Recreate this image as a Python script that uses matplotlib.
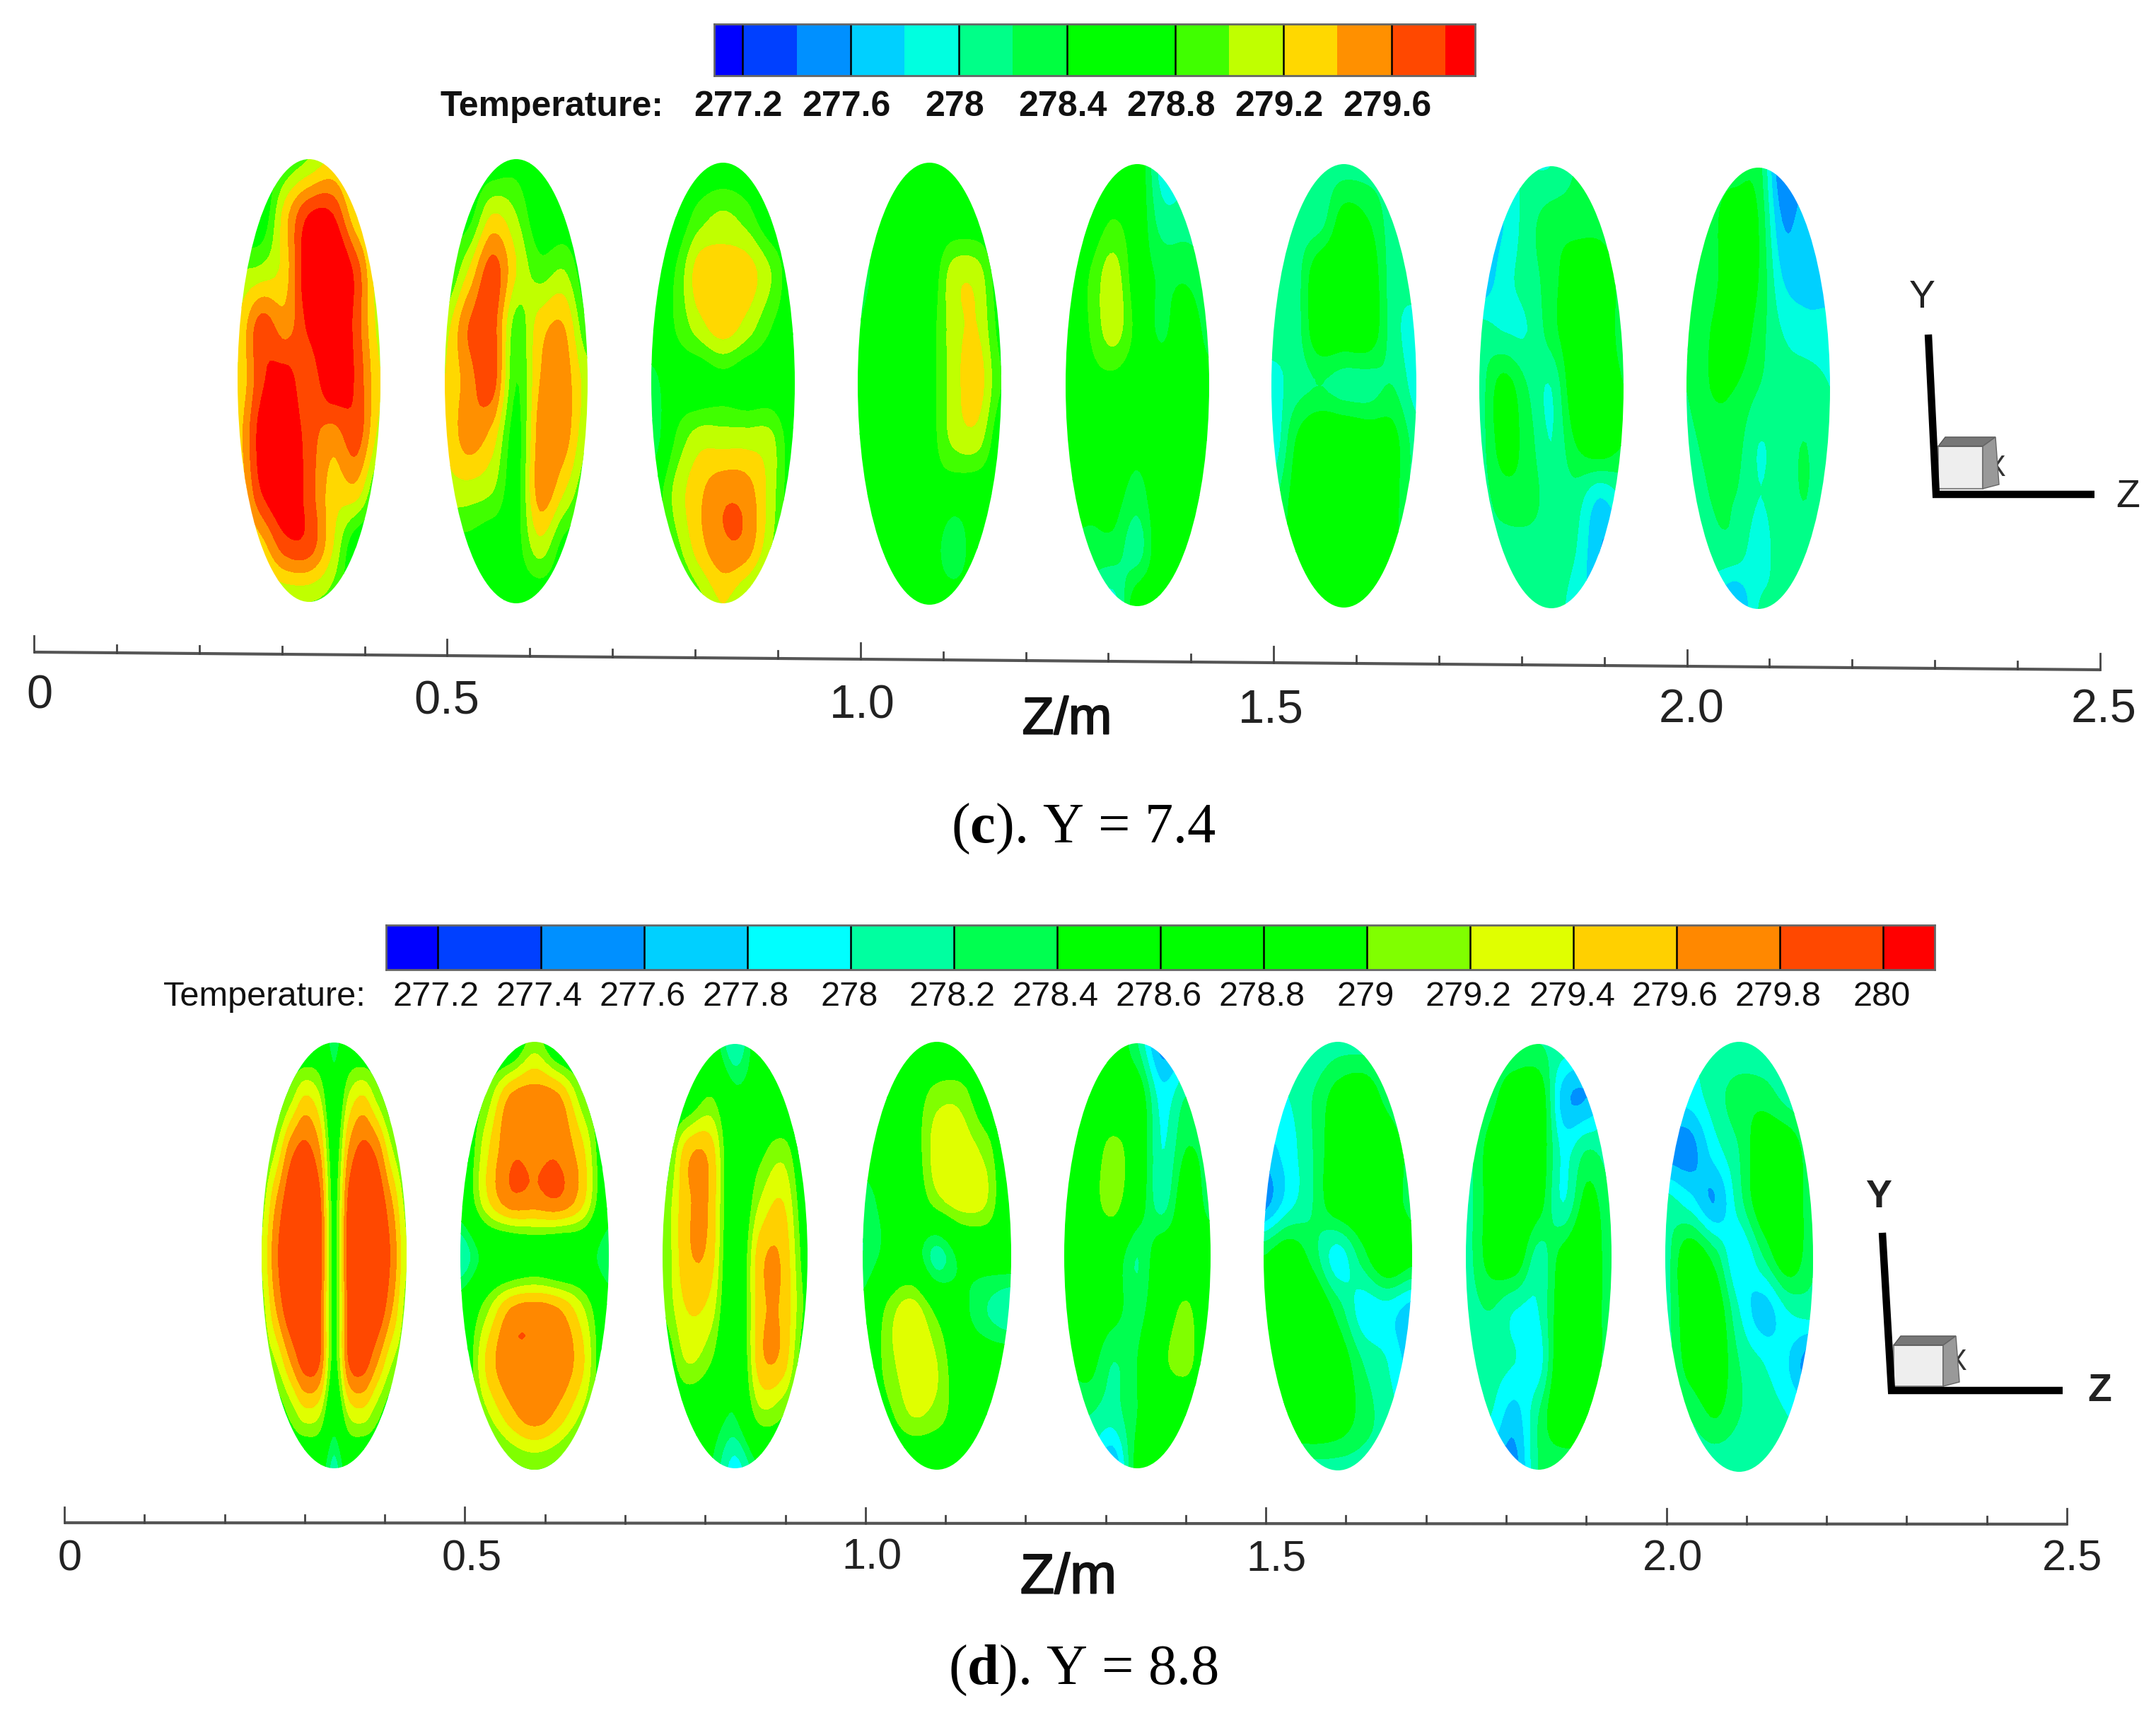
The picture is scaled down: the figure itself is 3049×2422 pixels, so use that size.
import numpy as np
import matplotlib
matplotlib.use("Agg")
import matplotlib.pyplot as plt
from matplotlib.patches import Ellipse, Polygon, Rectangle
import matplotlib.patheffects as pe

# ---------- data: temperature read at 9 heights (rows) x N widths (columns) ----------
c1 = [[278.6,278.6,278.8,279.0,279.2,278.9,278.6],[278.6,278.6,279.3,279.8,279.8,279.2,278.9],[279.0,279.05,279.3,280.0,280.1,279.7,279.0],[279.2,279.7,279.5,279.85,280.1,279.7,279.1],[279.2,279.75,279.9,279.65,280.0,279.75,279.2],[279.3,279.9,280.0,279.7,279.5,279.7,279.1],[279.2,279.8,280.0,279.7,279.3,279.3,278.7],[279.1,279.3,279.7,279.7,279.2,278.6,278.6],[279.0,279.0,279.0,279.0,278.9,278.6,278.6]]
c2 = [[278.6,278.6,278.6,278.7,278.5,278.5,278.5],[278.7,278.7,279.2,279.0,278.6,278.6,278.6],[278.7,279.2,279.7,279.2,278.9,279.0,278.6],[279.1,279.6,279.7,278.9,279.3,279.4,278.8],[279.2,279.5,279.7,278.8,279.4,279.5,279.1],[279.2,279.5,279.3,278.7,279.5,279.5,279.0],[279.1,279.1,279.0,278.7,279.5,279.2,278.8],[278.7,278.7,278.6,278.7,279.1,278.7,278.6],[278.6,278.6,278.6,278.6,278.6,278.6,278.6]]
c3 = [[278.6,278.6,278.6,278.6,278.6,278.6,278.6],[278.6,278.6,278.9,279.05,278.9,278.6,278.6],[278.6,278.8,279.3,279.3,279.3,279.0,278.6],[278.6,278.8,279.1,279.3,279.1,278.8,278.6],[278.3,278.6,278.6,278.7,278.6,278.6,278.5],[278.2,278.8,279.1,279.1,279.1,279.05,278.6],[278.6,279.05,279.35,279.55,279.5,279.1,278.6],[278.6,278.9,279.3,279.55,279.5,279.0,278.6],[278.6,278.6,278.9,279.2,278.9,278.6,278.6]]
c4 = [[278.6,278.6,278.6,278.6,278.6,278.6,278.6],[278.3,278.6,278.6,278.6,278.6,278.6,278.6],[278.3,278.5,278.6,278.6,279.1,279.1,278.6],[278.4,278.6,278.7,278.7,279.1,279.2,278.7],[278.5,278.7,278.7,278.7,279.1,279.3,278.8],[278.6,278.7,278.7,278.7,279.05,279.1,278.6],[278.6,278.6,278.6,278.7,278.6,278.6,278.6],[278.6,278.6,278.6,278.6,278.2,278.6,278.6],[278.6,278.6,278.6,278.6,278.6,278.6,278.6]]
c5 = [[278.6,278.6,278.6,278.6,277.9,277.9,277.9],[278.6,278.6,278.8,278.6,278.1,278.1,278.1],[278.6,278.8,279.1,278.6,278.35,278.35,278.2],[278.6,278.8,279.1,278.7,278.35,278.6,278.3],[278.6,278.7,278.7,278.6,278.6,278.6,278.5],[278.6,278.6,278.6,278.5,278.6,278.6,278.6],[278.6,278.5,278.5,278.3,278.6,278.6,278.6],[278.3,278.3,278.3,278.1,278.6,278.6,278.6],[278.1,278.1,277.9,278.6,278.6,278.6,278.6]]
c6 = [[278.1,278.1,278.1,278.1,278.1,278.1,278.1],[278.1,278.1,278.1,278.5,278.4,278.1,278.1],[278.1,278.1,278.6,278.6,278.6,278.1,278.1],[278.1,278.1,278.6,278.6,278.6,278.1,277.9],[277.9,278.1,278.2,278.1,278.1,278.2,277.9],[277.8,278.4,278.7,278.7,278.6,278.5,278.1],[278.1,278.5,278.7,278.7,278.6,278.5,278.1],[278.1,278.6,278.7,278.7,278.6,278.5,278.1],[278.6,278.6,278.6,278.6,278.6,278.6,278.6]]
c7 = [[278.0,278.0,278.0,278.0,278.2,278.2,278.2],[277.8,277.8,278.1,278.3,278.3,278.3,278.2],[277.6,277.9,278.1,278.3,278.6,278.6,278.3],[278.1,278.0,278.0,278.3,278.6,278.6,278.3],[278.1,278.5,278.2,278.0,278.6,278.6,278.4],[278.1,278.5,278.3,278.0,278.4,278.6,278.4],[278.1,278.3,278.3,278.1,278.1,277.8,278.0],[278.1,278.1,278.1,278.1,278.0,277.6,277.6],[278.1,278.1,278.1,278.1,277.9,277.7,277.7]]
c8 = [[278.3,278.3,278.3,278.3,277.4,277.6,277.6],[278.3,278.3,278.6,278.4,277.6,277.7,277.7],[278.3,278.3,278.6,278.4,277.8,277.7,277.7],[278.2,278.4,278.6,278.3,278.0,277.9,277.9],[278.2,278.4,278.4,278.2,278.1,278.1,278.0],[278.1,278.3,278.3,278.0,278.1,278.2,278.0],[277.9,278.2,278.2,278.0,278.1,278.2,278.0],[277.9,278.1,278.1,277.9,278.1,278.1,278.0],[277.7,277.8,277.5,278.0,278.0,278.0,278.0]]

d1 = [[278.7,278.7,278.7,278.7,278.7,278.3,278.7,278.7,278.7,278.7,278.7],
      [278.7,278.8,279.1,279.4,279.2,278.6,279.2,279.4,279.1,278.8,278.7],
      [278.9,279.2,279.7,279.85,279.6,278.8,279.6,279.85,279.7,279.2,278.9],
      [279.1,279.6,279.95,279.95,279.85,278.9,279.85,279.95,279.95,279.6,279.1],
      [279.2,279.75,279.95,279.95,279.9,278.9,279.9,279.95,279.95,279.75,279.2],
      [279.1,279.6,279.95,279.95,279.85,278.9,279.85,279.95,279.95,279.6,279.1],
      [279.0,279.2,279.6,279.9,279.8,278.9,279.8,279.9,279.6,279.2,279.0],
      [278.8,278.8,279.05,279.3,279.2,278.6,279.2,279.3,279.05,278.8,278.8],
      [278.7,278.7,278.7,278.6,278.6,278.1,278.6,278.6,278.7,278.7,278.7]]
d2 = [[278.6,278.6,278.6,279.1,278.6,278.6,278.6],[278.6,279.0,279.6,279.7,279.6,279.0,278.6],[278.6,279.3,279.75,279.75,279.75,279.4,278.6],[278.6,279.3,279.7,279.7,279.75,279.4,278.6],[278.0,278.5,278.6,278.7,278.6,278.6,278.2],[278.6,279.1,279.6,279.7,279.6,279.2,278.6],[278.6,279.4,279.75,279.75,279.75,279.4,278.6],[278.6,279.1,279.5,279.7,279.5,279.1,278.6],[278.6,278.6,278.9,279.0,278.9,278.6,278.6]]
d3 = [[278.6,278.6,278.6,278.0,278.6,278.6,278.6],[278.6,278.7,279.0,278.5,278.6,278.6,278.6],[278.7,279.5,279.5,278.6,278.9,279.1,278.6],[279.0,279.55,279.55,278.6,279.2,279.4,278.7],[279.0,279.55,279.5,278.6,279.5,279.55,278.8],[279.0,279.4,279.3,278.6,279.5,279.55,278.9],[278.7,279.2,279.0,278.5,279.5,279.5,278.7],[278.6,278.7,278.6,278.4,279.1,279.0,278.6],[278.6,278.6,278.4,277.9,278.4,278.6,278.6]]
d4 = [[278.6,278.6,278.6,278.6,278.6,278.6,278.6],[278.6,278.6,278.8,279.1,279.1,278.7,278.6],[278.5,278.6,278.8,279.3,279.3,279.1,278.6],[278.3,278.5,278.7,279.1,279.3,279.2,278.6],[278.2,278.5,278.6,278.1,278.5,278.6,278.6],[278.5,279.05,279.3,278.9,278.5,278.2,278.0],[278.6,279.1,279.3,279.2,278.7,278.6,278.6],[278.6,278.9,279.2,279.1,278.8,278.6,278.6],[278.6,278.6,278.6,278.6,278.6,278.6,278.6]]
d5 = [[278.6,278.6,278.6,278.2,277.5,277.8,278.3],[278.6,278.6,278.6,278.6,277.9,278.2,278.2],[278.6,278.7,279.1,278.7,278.0,278.4,278.3],[278.6,278.8,279.1,278.6,278.1,278.6,278.3],[278.6,278.6,278.6,278.2,278.6,278.6,278.6],[278.5,278.6,278.5,278.3,278.7,279.05,278.6],[278.4,278.5,278.2,278.4,278.9,279.1,278.6],[278.2,278.2,278.1,278.4,278.6,278.6,278.6],[278.0,278.0,277.6,278.5,278.6,278.6,278.6]]
d6 = [[278.0,278.0,278.0,278.1,278.1,278.1,278.1],[278.1,278.0,278.2,278.5,278.6,278.3,278.1],[277.7,277.9,278.2,278.6,278.7,278.6,278.3],[277.5,277.9,278.2,278.6,278.7,278.6,278.3],[278.4,278.6,278.3,277.9,278.3,278.7,278.5],[278.4,278.7,278.7,278.3,277.9,277.9,277.7],[278.4,278.7,278.7,278.6,278.2,278.0,277.7],[278.2,278.6,278.7,278.6,278.3,278.1,277.9],[278.1,278.1,278.1,278.1,278.1,278.1,278.1]]
d7 = [[278.2,278.2,278.2,278.2,278.1,278.0,278.0],[278.1,278.3,278.6,278.6,277.7,277.6,278.0],[278.1,278.5,278.7,278.6,277.95,278.2,278.1],[278.1,278.5,278.7,278.5,278.0,278.5,278.2],[278.1,278.5,278.6,278.1,278.5,278.7,278.2],[278.1,278.2,278.0,278.0,278.6,278.7,278.2],[278.1,278.1,278.0,277.9,278.7,278.7,278.2],[278.1,278.0,277.7,278.2,278.7,278.6,278.1],[278.1,277.7,277.5,278.2,278.2,278.2,278.1]]
d8 = [[278.0,278.0,278.0,278.0,278.0,278.0,278.0],[277.9,277.9,278.1,278.3,278.3,278.1,278.0],[277.5,277.5,277.9,278.2,278.6,278.6,278.2],[278.1,277.9,277.6,278.1,278.6,278.7,278.2],[278.1,278.6,278.3,277.8,278.2,278.6,278.2],[278.1,278.6,278.6,278.0,277.7,278.0,278.1],[278.1,278.5,278.6,278.2,278.0,277.8,277.4],[278.1,278.2,278.4,278.2,278.1,278.0,277.9],[278.0,278.0,278.0,278.0,278.0,278.0,278.0]]

fields_c = [c1, c2, c3, c4, c5, c6, c7, c8]
fields_d = [d1, d2, d3, d4, d5, d6, d7, d8]

# colour scale of each panel
levels_c = [277.2,277.4,277.6,277.8,278.0,278.2,278.4,278.6,278.8,279.0,279.2,279.4,279.6,279.8]
colors_c = ['#0000ff','#0040ff','#0090ff','#00d0ff','#00ffe0','#00ff88','#00ff40','#00ff00','#00ff00','#40ff00','#c0ff00','#ffd800','#ff9000','#ff4800','#ff0000']
levels_d = [277.2,277.4,277.6,277.8,278.0,278.2,278.4,278.6,278.8,279.0,279.2,279.4,279.6,279.8,280.0]
colors_d = ['#0000ff','#0040ff','#0090ff','#00d0ff','#00ffff','#00ffa0','#00ff50','#00ff00','#00ff00','#00ff00','#80ff00','#e0ff00','#ffd000','#ff8800','#ff4800','#ff0000']
ticklabels_c = ['277.2','277.6','278','278.4','278.8','279.2','279.6']
tickvalues_c = [277.2,277.6,278.0,278.4,278.8,279.2,279.6]
ticklabels_d = ['277.2','277.4','277.6','277.8','278','278.2','278.4','278.6','278.8','279','279.2','279.4','279.6','279.8','280']
tickvalues_d = levels_d
z_ticklabels = ['0','0.5','1.0','1.5','2.0','2.5']
z_tickvalues = [0.0,0.5,1.0,1.5,2.0,2.5]

# ---------- layout (pixels of the 3049 x 2422 canvas) ----------
W, H = 3049, 2422
plt.rcParams['font.family'] = ['Liberation Sans', 'DejaVu Sans']
plt.rcParams['mathtext.fontset'] = 'custom'
plt.rcParams['mathtext.rm'] = 'Liberation Serif'
plt.rcParams['mathtext.bf'] = 'Liberation Serif:bold'

fig = plt.figure(figsize=(W/100, H/100), dpi=100, facecolor='white')

def px_axes(xlim):
    a = fig.add_axes([0, 0, 1, 1], facecolor='none')
    a.set_xlim(*xlim)
    a.set_ylim(H, 0)
    a.axis('off')
    return a

def cubic_axis(a, n, axis):
    """Catmull-Rom resampling of the read table, only to round the contour outlines."""
    a = np.moveaxis(a, axis, 0)
    m = a.shape[0]
    pos = np.linspace(0, m-1, (m-1)*n+1)
    i = np.minimum(pos.astype(int), m-2)
    t = (pos-i).reshape(-1, *([1]*(a.ndim-1)))
    p0, p1, p2, p3 = a[np.maximum(i-1, 0)], a[i], a[i+1], a[np.minimum(i+2, m-1)]
    out = 0.5*(2*p1 + (p2-p0)*t + (2*p0-5*p1+4*p2-p3)*t**2 + (3*p1-p0-3*p2+p3)*t**3)
    return np.moveaxis(out, 0, axis)

def panel(fields, levels, colors, x0, x1, xbounds, ybounds, line_y, major, minor,
          cbar, cb_lim, tickvals, ticklabs, cb_bold, cb_fs, cb_label, cb_label_y, cb_step,
          lab_xy, zm_xy, zm_fs, lab_fs, caption, cap_y):
    scale = 2.5 / (x1 - x0)
    ax = px_axes((-x0*scale, (W-x0)*scale))
    for T, (xa, xb), (ya, yb) in zip(fields, xbounds, ybounds):
        T = cubic_axis(cubic_axis(np.array(T), 8, 0), 8, 1)
        za, zb = (xa-x0)*scale, (xb-x0)*scale
        cz, hw, cy, hh = (za+zb)/2, (zb-za)/2, (ya+yb)/2, (yb-ya)/2
        u = cz + hw*np.linspace(-1, 1, T.shape[1])
        v = cy + hh*np.linspace(-1, 1, T.shape[0])
        cs = ax.contourf(u, v, T, levels=levels, colors=colors, extend='both', antialiased=False)
        e = Ellipse((cz, cy), 2*hw, 2*hh, fc='none', ec='none')
        ax.add_patch(e)
        cs.set_clip_path(e)
    # Z axis
    zt = np.arange(0, 26)/10
    ly = line_y[0] + (line_y[1]-line_y[0])*zt/2.5
    ax.plot([0, 2.5], line_y, color='#555555', lw=3, solid_capstyle='butt')
    for i, (z, y) in enumerate(zip(zt, ly)):
        ax.plot([z, z], [y, y-(major if i % 5 == 0 else minor)], color='#444444', lw=2)
    for s, z, (tx, ty) in zip(z_ticklabels, z_tickvalues, lab_xy):
        ax.text((tx-x0)*scale, ty, s, ha='center', va='center', fontsize=lab_fs, color='#222222')
    t = ax.text((zm_xy[0]-x0)*scale, zm_xy[1], 'Z/m', ha='center', va='center', fontsize=zm_fs, color='#111111')
    t.set_path_effects([pe.withStroke(linewidth=1.5, foreground='#111111')])
    ax.text((cap_y[0]-x0)*scale, cap_y[1], caption, ha='center', va='center', fontsize=58,
            family='Liberation Serif', color='black')
    # colour bar
    cax = fig.add_axes([cbar[0]/W, 1-cbar[3]/H, (cbar[1]-cbar[0])/W, (cbar[3]-cbar[2])/H])
    edges = [cb_lim[0]] + list(levels) + [cb_lim[1]]
    for lo, hi, col in zip(edges[:-1], edges[1:], colors):
        cax.axvspan(lo, hi, color=col, lw=0)
    for v_ in tickvals:
        cax.axvline(v_, color='black', lw=1.8)
    cax.set_xlim(*cb_lim)
    cax.set_yticks([])
    cax.set_xticks([])
    for s in cax.spines.values():
        s.set_color('#666666')
        s.set_linewidth(2)
    w = 'bold' if cb_bold else 'normal'
    for v_, s in zip(tickvals, ticklabs):
        fig.text((cbar[0] + (v_-cb_lim[0])/(cb_lim[1]-cb_lim[0])*(cbar[1]-cbar[0]) - cb_step)/W,
                 1-cb_label_y/H, s, ha='center', va='center', fontsize=cb_fs, weight=w, color='#111111')
    fig.text(cb_label[0]/W, 1-cb_label_y/H, 'Temperature:', ha='center', va='center',
             fontsize=cb_fs, weight=w, color='#111111')

panel(fields_c, levels_c, colors_c, 48, 2970,
      [(336,538),(629,831),(921,1124),(1213,1416),(1507,1710),(1798,2003),(2092,2296),(2385,2588)],
      [(225,851),(225,853),(230,853),(230,855),(232,857),(232,859),(235,860),(237,861)],
      (922,947), 23, 11,
      (1010,2086,34,107), (277.095,279.91), tickvalues_c, ticklabels_c, True, 36, (780,0), 151, 6,
      [(56,985),(632,992),(1219,998),(1797,1004),(2392,1004),(2975,1004)], (1509,1018), 53, 48,
      r'($\mathbf{c}$). Y = 7.4', (1532,1172))

panel(fields_d, levels_d, colors_d, 91, 2923,
      [(370,575),(651,861),(937,1142),(1220,1430),(1505,1712),(1787,1997),(2073,2279),(2355,2564)],
      [(1474,2076),(1473,2078),(1476,2076),(1473,2078),(1475,2076),(1473,2079),(1476,2078),(1473,2081)],
      (2153,2155), 22, 11,
      (546,2736,1308,1371), (277.10,280.10), tickvalues_d, ticklabels_d, False, 35, (374,0), 1410, 2,
      [(99,2205),(667,2205),(1233,2203),(1805,2205),(2365,2205),(2931,2205)], (1511,2232), 57, 44,
      r'($\mathbf{d}$). Y = 8.8', (1532,2362))

# coordinate triads
ov = px_axes((0, W))
def triad(top, corner, end, box, ytxt, ztxt, xtxt, bold):
    ov.text(xtxt[0], xtxt[1], 'X', fontsize=30, ha='center', va='center', color='#333333', zorder=1)
    ov.add_patch(Rectangle((box[0], box[2]), box[1]-box[0], box[3]-box[2], fc='#eeeeee', ec='#888888', lw=1.5, zorder=3))
    ov.add_patch(Polygon([(box[0], box[2]), (box[0]+10, box[2]-13), (box[1]+18, box[2]-13), (box[1], box[2])],
                         fc='#777777', ec='#555555', zorder=3))
    ov.add_patch(Polygon([(box[1], box[2]), (box[1]+18, box[2]-13), (box[1]+23, box[3]-6), (box[1], box[3])],
                         fc='#999999', ec='#666666', zorder=3))
    ov.plot([top[0], corner[0], end[0]], [top[1], corner[1], end[1]], color='black', lw=7.5,
            solid_joinstyle='miter', solid_capstyle='butt', zorder=4)
    w = 'bold' if bold else 'normal'
    ov.text(*ytxt, 'Y', fontsize=40, ha='center', va='center', color='#222222', weight=w)
    ov.text(*ztxt, 'Z', fontsize=40, ha='center', va='center', color='#222222', weight=w)

triad((2727,473), (2738,699), (2962,699), (2741,2804,631,691), (2718,421), (3009,703), (2822,662), False)
triad((2662,1743), (2675,1966), (2917,1966), (2678,2748,1902,1960), (2657,1693), (2969,1967), (2767,1926), True)

fig.savefig('out.png', dpi=100, facecolor='white')
